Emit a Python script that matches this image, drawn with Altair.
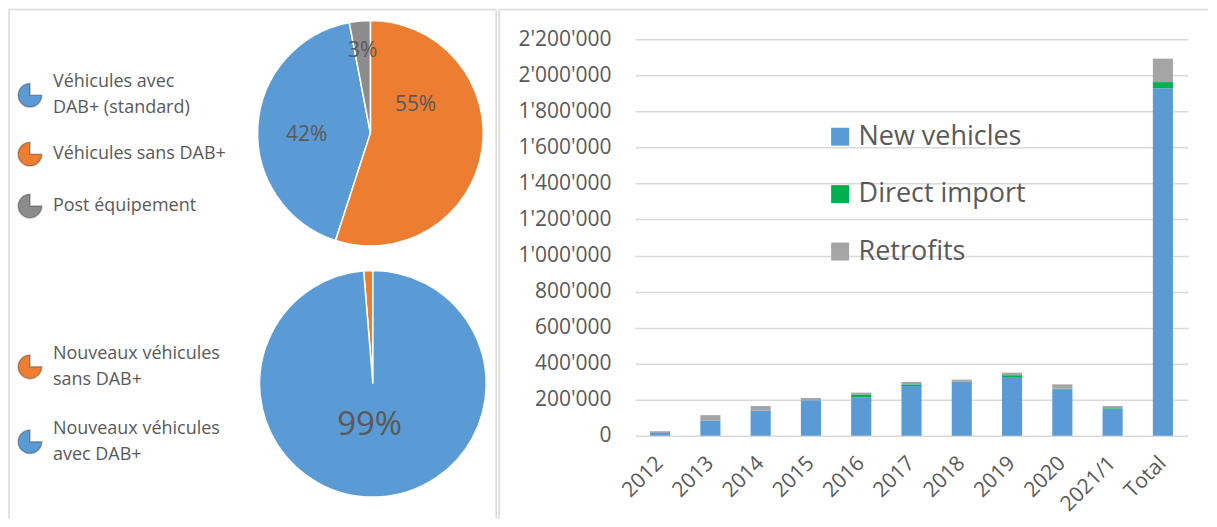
import altair as alt
import pandas as pd

# ---------------- data ----------------
pie1_labels = ["Véhicules avec\nDAB+ (standard)", "Véhicules sans DAB+", "Post équipement"]
pie1_values = [42, 55, 3]
pie1_order = [2, 1, 3]
pie1_colors = ["#5B9BD5", "#ED7D31", "#8C8C8C"]

pie2_labels = ["Nouveaux véhicules\nsans DAB+", "Nouveaux véhicules\navec DAB+"]
pie2_values = [1.3, 98.7]
pie2_order = [2, 1]
pie2_colors = ["#ED7D31", "#5B9BD5"]

years = ["2012", "2013", "2014", "2015", "2016", "2017", "2018", "2019", "2020", "2021/1", "Total"]
new_vehicles = [15000, 85000, 138000, 197000, 213000, 276000, 298000, 326000, 258000, 150000, 1929000]
direct_import = [0, 0, 0, 0, 16000, 9000, 2000, 10000, 3000, 3000, 34000]
retrofits = [10000, 29000, 27000, 12000, 10000, 14000, 11000, 14000, 24000, 12000, 130000]
series = ["New vehicles", "Direct import", "Retrofits"]
series_colors = ["#5B9BD5", "#00B050", "#A5A5A5"]
y_ticks = list(range(0, 2200001, 200000))

TXT = "#595959"
FONT = "Open Sans"
BORDER = "#D9D9D9"
PIE_ICON = "M0,0L0,-1A1,1,0,1,0,1,0Z"

df1 = pd.DataFrame({"cat": pie1_labels, "v": pie1_values, "ord": pie1_order})
df2 = pd.DataFrame({"cat": pie2_labels, "v": pie2_values, "ord": pie2_order})

rows = []
for i, yr in enumerate(years):
    for j, (s, vals) in enumerate(zip(series, [new_vehicles, direct_import, retrofits])):
        rows.append({"year": yr, "series": s, "sidx": j, "value": vals[i]})
df_bar = pd.DataFrame(rows)
dummy = pd.DataFrame({"a": [0]})


def pie_legend(x, y, row_pad):
    return alt.Legend(title=None, orient="none", legendX=x, legendY=y,
                      symbolType=PIE_ICON, symbolSize=560,
                      symbolStrokeColor="rgba(0,0,0,0.28)", symbolStrokeWidth=1.5,
                      labelFont=FONT, labelFontSize=18, labelColor=TXT, labelLimit=400,
                      labelOffset=10, rowPadding=row_pad,
                      labelExpr="split(datum.label, '\\n')")


# ---------------- left panel (pies) ----------------
LW, LH = 490, 397
C1 = dict(x=alt.value(363), y=alt.value(94))
C2 = dict(x=alt.value(365.5), y=alt.value(345))

base1 = alt.Chart(df1).transform_calculate(lab="format(datum.v, '.0f') + '%'")
arc1 = base1.mark_arc(radius=113, stroke="white", strokeWidth=1.5).encode(
    theta=alt.Theta("v:Q", stack=True),
    color=alt.Color("cat:N", scale=alt.Scale(domain=pie1_labels, range=pie1_colors),
                    legend=pie_legend(9, 43, 22)),
    order=alt.Order("ord:Q"),
    **C1)


def lab1(o, radius, dx=0, dy=0):
    return base1.mark_text(radius=radius, dx=dx, dy=dy, fontSize=21, font=FONT, color=TXT).encode(
        theta=alt.Theta("v:Q", stack=True),
        order=alt.Order("ord:Q"),
        text=alt.condition(alt.datum.ord == o, alt.Text("lab:N"), alt.value("")),
        **C1)


t1a = lab1(1, 63, dx=-17, dy=-38)
t1b = lab1(2, 64, dy=6)
t1c = lab1(3, 83)

base2 = alt.Chart(df2).transform_calculate(lab="format(datum.v, '.0f') + '%'")
arc2 = base2.mark_arc(radius=113.5, stroke="white", strokeWidth=1.5).encode(
    theta=alt.Theta("v:Q", stack=True),
    color=alt.Color("cat:N", scale=alt.Scale(domain=pie2_labels, range=pie2_colors),
                    legend=pie_legend(9, 315, 31)),
    order=alt.Order("ord:Q"),
    **C2)
t2 = base2.mark_text(radius=41.5, dx=-5, fontSize=33, font=FONT, color=TXT).encode(
    theta=alt.Theta("v:Q", stack=True),
    order=alt.Order("ord:Q"),
    text=alt.condition(alt.datum.ord == 1, alt.Text("lab:N"), alt.value("")),
    **C2)

rb = alt.Chart(dummy).mark_rule(color=BORDER, strokeWidth=1.5)
l_left = rb.encode(x=alt.value(1), y=alt.value(-30), y2=alt.value(480))
l_top = rb.encode(x=alt.value(1), x2=alt.value(489), y=alt.value(-30))
l_right = rb.encode(x=alt.value(489), y=alt.value(-30), y2=alt.value(480))

left = alt.layer(arc1, t1a, t1b, t1c, arc2, t2, l_left, l_top, l_right).resolve_scale(
    color="independent", theta="independent").properties(width=LW, height=LH)

# ---------------- right panel (bars) ----------------
BW, BH = 554, 397
bars = alt.Chart(df_bar).mark_bar().encode(
    x=alt.X("year:N", sort=years, title=None,
            scale=alt.Scale(paddingInner=0.6, paddingOuter=0.3),
            axis=alt.Axis(labelAngle=-45, labelFont=FONT, labelFontSize=21, labelColor=TXT,
                          labelAlign="right", labelBaseline="middle",
                          domain=False, ticks=False, labelPadding=24, grid=False)),
    y=alt.Y("value:Q", stack="zero", title=None,
            scale=alt.Scale(domain=[0, 2200000], nice=False),
            axis=alt.Axis(values=y_ticks, labelFont=FONT, labelFontSize=21, labelColor=TXT,
                          domain=False, ticks=False, labelPadding=24,
                          gridColor=BORDER, gridWidth=1.5,
                          labelExpr="replace(format(datum.value, ','), regexp(',', 'g'), \"'\")")),
    color=alt.Color("series:N", scale=alt.Scale(domain=series, range=series_colors),
                    legend=alt.Legend(title=None, orient="none", legendX=192, legendY=84,
                                      symbolType="square", symbolSize=324, symbolStrokeWidth=0,
                                      labelFont=FONT, labelFontSize=27, labelColor=TXT,
                                      labelOffset=5, rowPadding=29.5, labelLimit=400)),
    order=alt.Order("sidx:Q"),
)

rr = alt.Chart(dummy).mark_rule(color=BORDER, strokeWidth=1.5)
r_left = rr.encode(x=alt.value(-136), y=alt.value(-30), y2=alt.value(480))
r_top = rr.encode(x=alt.value(-136), x2=alt.value(574), y=alt.value(-30))

right = alt.layer(bars, r_left, r_top).properties(width=BW, height=BH)

chart = alt.hconcat(left, right, spacing=1).resolve_scale(color="independent").properties(
    padding=0).configure(
    view=alt.ViewConfig(stroke=None),
    style={"guide-label": {
        "lineHeight": 26,
        "dy": {"expr": "isString(datum.value) && indexof(datum.value, '\\n') >= 0 ? -13 : 0"}}})

chart.save("out.html", embed_options={"renderer": "svg", "actions": False})
